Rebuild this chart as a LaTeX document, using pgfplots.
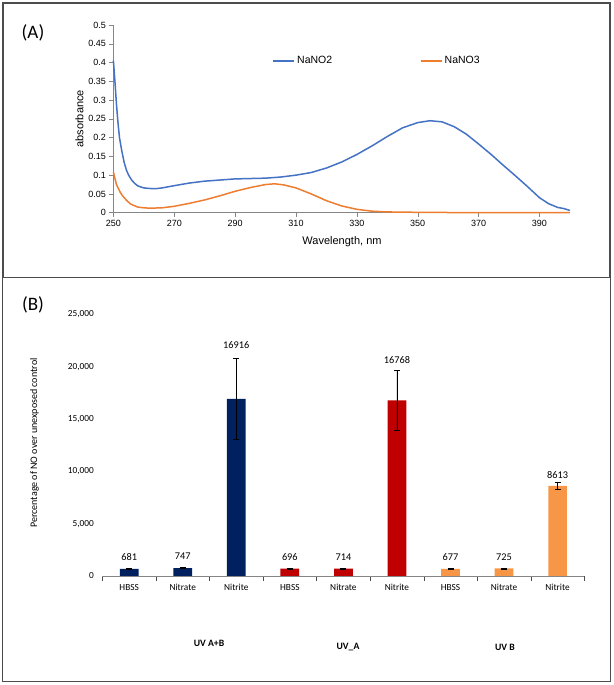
\documentclass[border=0pt]{standalone}
\usepackage{pgfplots}
\pgfplotsset{compat=1.18}
\usepackage{fontspec}
\setmainfont{Liberation Sans}
\newfontfamily\calibri{Carlito}

\definecolor{nitblue}{HTML}{4472C4}
\definecolor{natorange}{HTML}{ED7D31}
\definecolor{barnavy}{HTML}{002060}
\definecolor{barred}{HTML}{C00000}
\definecolor{barorange}{HTML}{F79646}
\definecolor{axgray}{HTML}{868686}

\begin{document}
\begin{tikzpicture}[x=1pt,y=1pt]
\useasboundingbox (0,0) rectangle (613,685);
% panel frames
\draw[line width=1.3pt, black!70] (3,682) rectangle (610,407.5);
\draw[line width=1.3pt, black!70] (2.5,407.5) rectangle (610.5,3.5);
\node[font=\calibri\fontsize{19}{20}\selectfont] at (33,652) {(A)};
\node[font=\calibri\fontsize{19}{20}\selectfont] at (33,380) {(B)};

% (A) absorbance spectra
\begin{axis}[
    at={(113.4pt,472.3pt)}, anchor=south west,
    scale only axis, width=456.5pt, height=187.7pt,
    xmin=250, xmax=400, ymin=0, ymax=0.5,
    axis lines=left, axis line style={-, draw=axgray},
    xtick={250,270,290,310,330,350,370,390},
    ytick={0,0.05,0.1,0.15,0.2,0.25,0.3,0.35,0.4,0.45,0.5},
    tick align=outside, tick style={axgray, thin}, major tick length=4pt,
    ticklabel style={font=\fontsize{9}{10}\selectfont},
    /pgf/number format/assume math mode=true,
    yticklabel style={/pgf/number format/fixed, /pgf/number format/precision=2},
    xlabel={Wavelength, nm}, ylabel={absorbance},
    label style={font=\fontsize{11}{12}\selectfont},
    xlabel style={at={(0.5008,-0.156)}, anchor=center},
    ylabel style={at={(-0.0745,0.5)}, anchor=center},
    legend style={draw=none, fill=none, inner sep=0pt, at={(0.3485,0.808)}, anchor=west,
        font=\fontsize{10.5}{12}\selectfont, legend columns=2,
        /tikz/every even column/.append style={column sep=86pt}},
    legend image code/.code={\draw[#1] (0pt,0pt) -- (21pt,0pt);},
    clip=false,
]
\addplot[nitblue, line width=1.5pt] coordinates {
(250,0.405) (250.5,0.35) (251,0.29) (251.5,0.24) (252,0.20) (252.7,0.167)
(253.5,0.135) (254.3,0.113) (255,0.10) (256,0.087) (257,0.078) (258.1,0.071)
(260,0.066) (262,0.0645) (264,0.064) (266,0.066) (270,0.072) (275,0.079)
(280,0.084) (285,0.087) (290,0.090) (295,0.091) (300,0.092) (305,0.095)
(310,0.100) (315,0.107) (320,0.119) (325,0.135) (330,0.155) (335,0.178)
(340,0.203) (345,0.226) (350,0.240) (354,0.245) (358,0.242) (362,0.229)
(366,0.209) (370,0.183) (374,0.156) (378,0.127) (382,0.099) (386,0.070)
(390,0.040) (393,0.024) (396,0.014) (398,0.011) (400,0.006)
};
\addlegendentry{NaNO2}
\addplot[natorange, line width=1.5pt] coordinates {
(250,0.108) (251,0.075) (252.2,0.055) (253,0.045) (254.3,0.033) (255.5,0.024)
(256.5,0.020) (258,0.015) (260,0.013) (262,0.012) (266,0.013) (270,0.017)
(275,0.025) (280,0.034) (285,0.045) (290,0.057) (295,0.067) (300,0.075)
(303,0.077) (306,0.074) (310,0.066) (315,0.050) (320,0.032) (325,0.018)
(330,0.009) (335,0.004) (340,0.002) (350,0.001) (360,0.0005) (400,0)
};
\addlegendentry{NaNO3}
\end{axis}

% (B) NO release bars
\begin{axis}[
    at={(102.4pt,109pt)}, anchor=south west,
    scale only axis, width=482pt, height=261.7pt,
    xmin=-0.5, xmax=8.5, ymin=0, ymax=25000,
    axis lines=left, x axis line style={-, draw=axgray}, y axis line style={draw=none},
    xtick={0,1,2,3,4,5,6,7,8},
    xticklabels={HBSS,Nitrate,Nitrite,HBSS,Nitrate,Nitrite,HBSS,Nitrate,Nitrite},
    minor xtick={-0.5,0.5,1.5,2.5,3.5,4.5,5.5,6.5,7.5,8.5},
    ytick={0,5000,10000,15000,20000,25000},
    tick align=outside, major tick length=0pt, minor tick length=5pt,
    minor tick style={black!70, thin},
    scaled y ticks=false,
    yticklabel style={/pgf/number format/fixed, /pgf/number format/1000 sep={,}, xshift=-5pt},
    xticklabel style={yshift=-5pt},
    ticklabel style={font=\calibri\fontsize{9.3}{10}\selectfont},
    /pgf/number format/assume math mode=true,
    ylabel={Percentage of NO over unexposed control},
    ylabel style={at={(-0.1411,0.508)}, anchor=center, font=\calibri\fontsize{10}{12}\selectfont},
    error bars/error bar style={black, line width=0.7pt},
    error bars/error mark options={black, rotate=90, mark size=3pt, line width=0.7pt},
    clip=false,
]
\addplot[ybar, bar width=18.7pt, fill=barnavy, draw=none,
    error bars/.cd, y dir=both, y explicit] table[y error=e] {
x y e
0 681 50
1 747 50
2 16916 3850
};
\addplot[ybar, bar width=18.7pt, fill=barred, draw=none,
    error bars/.cd, y dir=both, y explicit] table[y error=e] {
x y e
3 696 50
4 714 50
5 16768 2850
};
\addplot[ybar, bar width=18.7pt, fill=barorange, draw=none,
    error bars/.cd, y dir=both, y explicit] table[y error=e] {
x y e
6 677 50
7 725 50
8 8613 370
};
% value labels
\addplot[draw=none, mark=none, nodes near coords, point meta=explicit symbolic,
    every node near coord/.append style={anchor=center, black,
        font=\calibri\fontsize{10.3}{12}\selectfont}] table[meta=lab] {
x y lab
0 1767 681
1 1863 747
2 22039 16916
3 1767 696
4 1767 714
5 20663 16768
6 1767 677
7 1767 725
8 9649 8613
};
\end{axis}
\node[font=\calibri\bfseries\fontsize{9.7}{11}\selectfont] at (209,42) {UV A+B};
\node[font=\calibri\bfseries\fontsize{9.7}{11}\selectfont] at (348,38) {UV\_A};
\node[font=\calibri\bfseries\fontsize{9.7}{11}\selectfont] at (505,38) {UV B};
\end{tikzpicture}
\end{document}
